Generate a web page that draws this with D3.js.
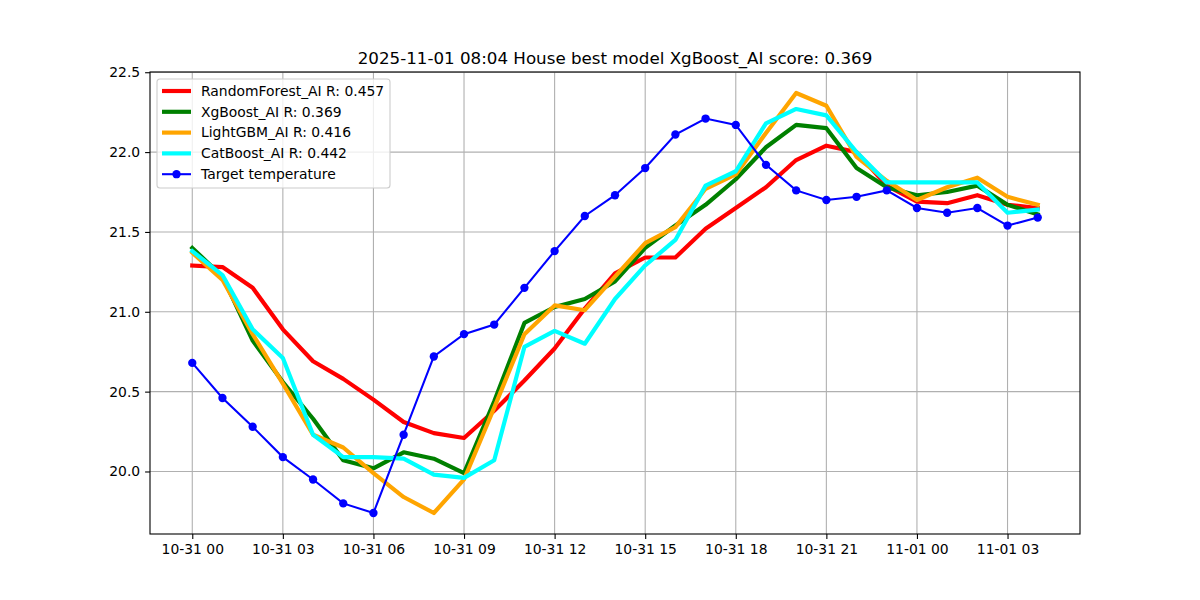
<!DOCTYPE html>
<meta charset="utf-8">
<html>
<head>
<style>
  body { margin: 0; background: #fff; }
  svg text { font-family: "DejaVu Sans", sans-serif; fill: #000; }
  .grid line { stroke: #b0b0b0; stroke-width: 1.1; }
  .axis path, .axis line { stroke: #000; stroke-width: 1.1; }
</style>
<script src="https://d3js.org/d3.v7.min.js"></script>
</head>
<body>
<svg width="1200" height="600"></svg>
<script>

// hourly timestamps, 2025-10-31 00:00 .. 2025-11-01 04:00
var hours = d3.range(0, 29);
var title = "2025-11-01 08:04 House best model XgBoost_AI score: 0.369";

var randomForest = [21.29, 21.28, 21.15, 20.89, 20.69, 20.58, 20.45, 20.31, 20.24, 20.21,
                    20.38, 20.57, 20.77, 21.02, 21.24, 21.34, 21.34, 21.52, 21.65, 21.78,
                    21.95, 22.04, 22.00, 21.79, 21.69, 21.68, 21.73, 21.67, 21.65];
var xgBoost      = [21.40, 21.22, 20.82, 20.56, 20.33, 20.07, 20.02, 20.12, 20.08, 19.99,
                    20.44, 20.93, 21.03, 21.08, 21.19, 21.40, 21.54, 21.67, 21.83, 22.03,
                    22.17, 22.15, 21.90, 21.78, 21.73, 21.75, 21.79, 21.67, 21.61];
var lightGBM     = [21.37, 21.20, 20.86, 20.55, 20.23, 20.15, 19.99, 19.84, 19.74, 19.95,
                    20.40, 20.86, 21.04, 21.01, 21.22, 21.43, 21.53, 21.77, 21.86, 22.12,
                    22.37, 22.29, 21.97, 21.82, 21.70, 21.78, 21.84, 21.72, 21.67];
var catBoost     = [21.38, 21.23, 20.89, 20.71, 20.23, 20.09, 20.09, 20.08, 19.98, 19.96,
                    20.07, 20.78, 20.88, 20.80, 21.08, 21.29, 21.45, 21.79, 21.88, 22.18,
                    22.27, 22.23, 22.00, 21.81, 21.81, 21.81, 21.81, 21.62, 21.64];
var target       = [20.68, 20.46, 20.28, 20.09, 19.95, 19.80, 19.74, 20.23, 20.72, 20.86,
                    20.92, 21.15, 21.38, 21.60, 21.73, 21.90, 22.11, 22.21, 22.17, 21.92,
                    21.76, 21.70, 21.72, 21.76, 21.65, 21.62, 21.65, 21.54, 21.59];

var seriesNames  = ["RandomForest_AI R: 0.457", "XgBoost_AI R: 0.369", "LightGBM_AI R: 0.416",
                    "CatBoost_AI R: 0.442", "Target temperature"];
var seriesColors = ["#ff0000", "#008000", "#ffa500", "#00ffff", "#0000ff"];
var yTicks = [20.0, 20.5, 21.0, 21.5, 22.0, 22.5];

var start = Date.UTC(2025, 9, 31, 0, 0);
var times = hours.map(function(h) { return new Date(start + h * 3600e3); });

var svg = d3.select("svg"),
    margin = {top: 72, right: 120, bottom: 66, left: 150},
    width = +svg.attr("width") - margin.left - margin.right,
    height = +svg.attr("height") - margin.top - margin.bottom;

var g = svg.append("g").attr("transform", "translate(" + margin.left + "," + margin.top + ")");

// matplotlib style 5% margins
var t0 = times[0].getTime(), t1 = times[times.length - 1].getTime();
var padT = (t1 - t0) * 0.05;
var x = d3.scaleUtc().domain([new Date(t0 - padT), new Date(t1 + padT)]).range([0, width]);

var all = [].concat(randomForest, xgBoost, lightGBM, catBoost, target);
var lo = d3.min(all), hi = d3.max(all), padV = (hi - lo) * 0.05;
var y = d3.scaleLinear().domain([lo - padV, hi + padV]).range([height, 0]);

var xTicks = d3.range(0, 29, 3).map(function(h) { return times[h]; });
var fmt = d3.utcFormat("%m-%d %H");

// grid
g.append("g").attr("class", "grid")
  .selectAll("line").data(xTicks).enter().append("line")
  .attr("x1", function(d) { return x(d); }).attr("x2", function(d) { return x(d); })
  .attr("y1", 0).attr("y2", height);
g.append("g").attr("class", "grid")
  .selectAll("line").data(yTicks).enter().append("line")
  .attr("y1", function(d) { return y(d); }).attr("y2", function(d) { return y(d); })
  .attr("x1", 0).attr("x2", width);

// axes
g.append("g").attr("class", "axis")
  .attr("transform", "translate(0," + height + ")")
  .call(d3.axisBottom(x).tickValues(xTicks).tickFormat(fmt).tickSize(4.9).tickPadding(4.9).tickSizeOuter(0))
  .call(function(a) { a.select(".domain").remove(); })
  .selectAll("text").attr("font-size", "13.9px").attr("font-family", "DejaVu Sans");

g.append("g").attr("class", "axis")
  .call(d3.axisLeft(y).tickValues(yTicks).tickFormat(d3.format(".1f")).tickSize(4.9).tickPadding(4.9).tickSizeOuter(0))
  .call(function(a) { a.select(".domain").remove(); })
  .selectAll("text").attr("font-size", "13.9px").attr("font-family", "DejaVu Sans");

// lines
var line = d3.line()
  .x(function(d, i) { return x(times[i]); })
  .y(function(d) { return y(d); });

var modelSeries = [randomForest, xgBoost, lightGBM, catBoost];
modelSeries.forEach(function(s, i) {
  g.append("path").datum(s)
    .attr("d", line)
    .attr("fill", "none")
    .attr("stroke", seriesColors[i])
    .attr("stroke-width", 4.17)
    .attr("stroke-linejoin", "round")
    .attr("stroke-linecap", "square");
});

g.append("path").datum(target)
  .attr("d", line)
  .attr("fill", "none")
  .attr("stroke", seriesColors[4])
  .attr("stroke-width", 2.08);

g.selectAll(".dot").data(target).enter().append("circle")
  .attr("class", "dot")
  .attr("cx", function(d, i) { return x(times[i]); })
  .attr("cy", function(d) { return y(d); })
  .attr("r", 4.17)
  .attr("fill", seriesColors[4]);

// frame
g.append("rect").attr("width", width).attr("height", height)
  .attr("fill", "none").attr("stroke", "#000").attr("stroke-width", 1.1);

// title
svg.append("text")
  .attr("x", margin.left + width / 2).attr("y", 64)
  .attr("text-anchor", "middle").attr("font-size", "16.7px")
  .text(title);

// legend
var legend = g.append("g").attr("transform", "translate(7,7)");
legend.append("rect")
  .attr("width", 233).attr("height", 109).attr("rx", 3)
  .attr("fill", "#fff").attr("fill-opacity", 0.8)
  .attr("stroke", "#cccccc").attr("stroke-width", 1.1);

var rows = legend.selectAll(".row").data(seriesNames).enter().append("g")
  .attr("class", "row")
  .attr("transform", function(d, i) { return "translate(0," + (12 + i * 20.8) + ")"; });

rows.append("line")
  .attr("x1", 5).attr("x2", 34)
  .attr("stroke", function(d, i) { return seriesColors[i]; })
  .attr("stroke-width", function(d, i) { return i < 4 ? 4.17 : 2.08; });

rows.filter(function(d, i) { return i === 4; }).append("circle")
  .attr("cx", 19.5).attr("r", 4.17).attr("fill", seriesColors[4]);

rows.append("text")
  .attr("x", 44).attr("dy", "0.35em")
  .attr("font-size", "13.9px")
  .text(function(d) { return d; });

</script>
</body>
</html>
